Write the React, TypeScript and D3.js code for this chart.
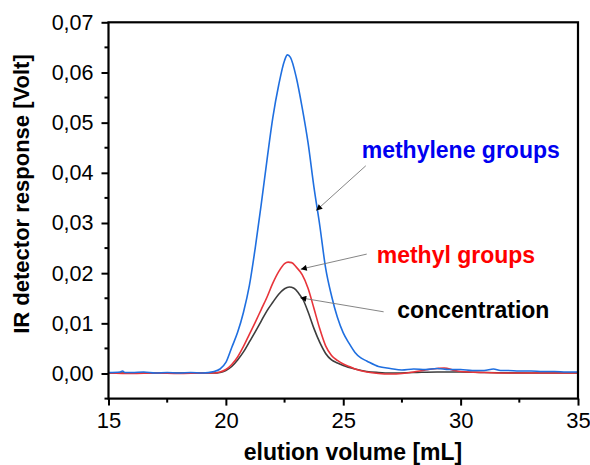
import React, { useEffect, useRef } from "react";
import * as d3 from "d3";

// ---- data ----
const blueX = [15, 15.5, 15.6, 15.7, 16, 16.5, 17, 17.5, 18, 18.5, 19, 19.5, 19.75, 20.0, 20.25, 20.5, 20.75, 21.0, 21.25, 21.5, 21.75, 22.0, 22.25, 22.5, 22.62, 22.75, 23.0, 23.25, 23.5, 23.75, 24.0, 24.25, 24.5, 24.75, 25.0, 25.25, 25.5, 25.75, 26.0, 26.5, 27.0, 27.5, 28.0, 28.5, 29.0, 29.5, 30.0, 30.5, 31.0, 31.4, 31.7, 32.0, 32.5, 33.0, 33.5, 34.0, 34.5, 35.0];
const blueY = [0.0002, 0.0003, 0.0005, 0.0002, 0.0002, 0.0003, 0.0001, 0.0002, 0.0001, 0.0002, 0.0001, 0.0004, 0.0009, 0.0022, 0.0052, 0.0082, 0.0122, 0.0175, 0.025, 0.0335, 0.0425, 0.051, 0.0575, 0.0624, 0.0635, 0.063, 0.059, 0.053, 0.046, 0.0372, 0.0295, 0.021, 0.0155, 0.0112, 0.0081, 0.006, 0.0042, 0.0031, 0.0025, 0.0014, 0.001, 0.0007, 0.0009, 0.0008, 0.001, 0.0008, 0.0008, 0.0006, 0.0006, 0.0009, 0.0006, 0.0006, 0.0005, 0.0005, 0.0004, 0.0004, 0.0003, 0.0003];

const redX = [15, 16, 17, 18, 19, 19.5, 19.75, 20.0, 20.25, 20.5, 20.75, 21.0, 21.25, 21.5, 21.75, 22.0, 22.25, 22.5, 22.65, 22.8, 23.0, 23.25, 23.5, 23.75, 24.0, 24.25, 24.5, 24.75, 25.0, 25.25, 25.5, 26.0, 26.5, 27.0, 27.5, 28.0, 28.5, 29.0, 29.3, 29.75, 30.0, 31.0, 32.0, 33.0, 34.0, 35.0];
const redY = [0.0001, 0.0, 0.0001, 0.0, 0.0001, 0.0001, 0.0003, 0.0008, 0.0018, 0.0033, 0.0054, 0.0078, 0.0102, 0.0127, 0.0152, 0.018, 0.0203, 0.0219, 0.0222, 0.0221, 0.0212, 0.0197, 0.017, 0.013, 0.0089, 0.0055, 0.0036, 0.0026, 0.0019, 0.0014, 0.0009, 0.0003, 0.0, -0.0001, 0.0, 0.0003, 0.0007, 0.001, 0.0011, 0.0006, 0.0004, 0.0002, 0.0001, 0.0001, 0.0001, 0.0001];

const blackX = [15, 16, 17, 18, 19, 19.5, 19.75, 20.0, 20.25, 20.5, 20.75, 21.0, 21.25, 21.5, 21.75, 22.0, 22.25, 22.5, 22.7, 22.9, 23.1, 23.3, 23.5, 23.75, 24.0, 24.25, 24.5, 24.75, 25.0, 25.5, 26.0, 26.5, 27.0, 28.0, 29.0, 30.0, 31.0, 33.0, 35.0];
const blackY = [0.0001, 0.0001, 0.0001, 0.0001, 0.0001, 0.0001, 0.0002, 0.0006, 0.0014, 0.0027, 0.0043, 0.0063, 0.0083, 0.0104, 0.0125, 0.0142, 0.0158, 0.0169, 0.01725, 0.017, 0.016, 0.0146, 0.0123, 0.009, 0.0062, 0.004, 0.0027, 0.0021, 0.0016, 0.0009, 0.0004, 0.0002, 0.0001, 0.0002, 0.0003, 0.0003, 0.0002, 0.0001, 0.0001];

const xTicks = [15, 20, 25, 30, 35];
const xMinor = [17.5, 22.5, 27.5, 32.5];
const yTicks = [0, 0.01, 0.02, 0.03, 0.04, 0.05, 0.06, 0.07];
const yMinor = [-0.005, 0.005, 0.015, 0.025, 0.035, 0.045, 0.055, 0.065];

// annotations: label + arrow (start, tip) in data units
const annotations = [
  { text: "methylene groups", color: "#0000f0", tx: 361.7, ty: 158.3, x0: 25.96, y0: 0.0414, x1: 23.85, y1: 0.0325 },
  { text: "methyl groups", color: "#ff0000", tx: 376.7, ty: 263.3, x0: 26.0, y0: 0.0238, x1: 23.19, y1: 0.0208 },
  { text: "concentration", color: "#000000", tx: 397.3, ty: 317.5, x0: 26.72, y0: 0.0123, x1: 23.17, y1: 0.0151 },
];

const W = 590, H = 465;
const L = 108.5, R = 578, T = 22.3, B = 398.6;
const FONT = "'Liberation Sans', Arial, sans-serif";

export default function App() {
  const gx = useRef<SVGGElement>(null);
  const gy = useRef<SVGGElement>(null);
  const x = d3.scaleLinear().domain([15, 35]).range([L, R]);
  const y = d3.scaleLinear().domain([-0.005, 0.07]).range([B, T]);

  useEffect(() => {
    const fmt = (d: any) => d3.format(".2f")(d).replace(".", ",");
    const ax = d3.axisBottom(x).tickValues(xTicks).tickSize(7).tickPadding(7).tickFormat(d3.format("d") as any);
    const sx = d3.select(gx.current!);
    sx.selectAll("*").remove();
    sx.call(ax as any);
    sx.select(".domain").remove();
    sx.selectAll(".tick line").attr("stroke-width", 2);
    sx.selectAll(".tick text").attr("font-size", 22).attr("font-family", FONT).attr("fill", "#000");
    sx.selectAll(".minor").data(xMinor).enter().append("line").attr("class", "minor")
      .attr("x1", (d) => x(d)).attr("x2", (d) => x(d)).attr("y1", 0).attr("y2", 4)
      .attr("stroke", "#000").attr("stroke-width", 2);

    const ay = d3.axisLeft(y).tickValues(yTicks).tickSize(7).tickPadding(8).tickFormat(fmt as any);
    const sy = d3.select(gy.current!);
    sy.selectAll("*").remove();
    sy.call(ay as any);
    sy.select(".domain").remove();
    sy.selectAll(".tick line").attr("stroke-width", 2);
    sy.selectAll(".tick text").attr("font-size", 21.5).attr("font-family", FONT).attr("fill", "#000");
    sy.selectAll(".minor").data(yMinor).enter().append("line").attr("class", "minor")
      .attr("y1", (d) => y(d)).attr("y2", (d) => y(d)).attr("x1", 0).attr("x2", -4)
      .attr("stroke", "#000").attr("stroke-width", 2);
  }, []);

  const line = (xs: number[], ys: number[]) =>
    d3.line<number>().x((_, i) => x(xs[i])).y((d) => y(d)).curve(d3.curveMonotoneX)(ys) || "";

  return (
    <svg width={W} height={H} style={{ position: "absolute", left: 0, top: 0, background: "#fff" }}>
      <defs>
        <marker id="ah" viewBox="0 0 10 10" refX="10" refY="5" markerWidth="8" markerHeight="6" markerUnits="userSpaceOnUse" orient="auto">
          <path d="M0,0 L10,5 L0,10 z" fill="#000" />
        </marker>
      </defs>
      <rect x={0} y={0} width={W} height={H} fill="#fff" />
      <path d={line(blackX, blackY)} fill="none" stroke="#3d3d3d" strokeWidth={1.6} />
      <path d={line(redX, redY)} fill="none" stroke="#e8343a" strokeWidth={1.6} />
      <path d={line(blueX, blueY)} fill="none" stroke="#1f6fe0" strokeWidth={1.6} />

      {annotations.map((a) => (
        <g key={a.text}>
          <line x1={x(a.x0)} y1={y(a.y0)} x2={x(a.x1)} y2={y(a.y1)} stroke="#777" strokeWidth={0.9} markerEnd="url(#ah)" />
          <text x={a.tx} y={a.ty} fill={a.color} fontFamily={FONT} fontWeight="bold" fontSize={23}>{a.text}</text>
        </g>
      ))}

      <rect x={L} y={T} width={R - L} height={B - T} fill="none" stroke="#000" strokeWidth={2.2} />
      <g ref={gx} transform={`translate(0,${B})`} />
      <g ref={gy} transform={`translate(${L},0)`} />

      <text x={353} y={460} textAnchor="middle" fontFamily={FONT} fontWeight="bold" fontSize={23}>elution volume [mL]</text>
      <text transform={`translate(29,194) rotate(-90)`} textAnchor="middle" fontFamily={FONT} fontWeight="bold" fontSize={22}>IR detector response [Volt]</text>
    </svg>
  );
}
